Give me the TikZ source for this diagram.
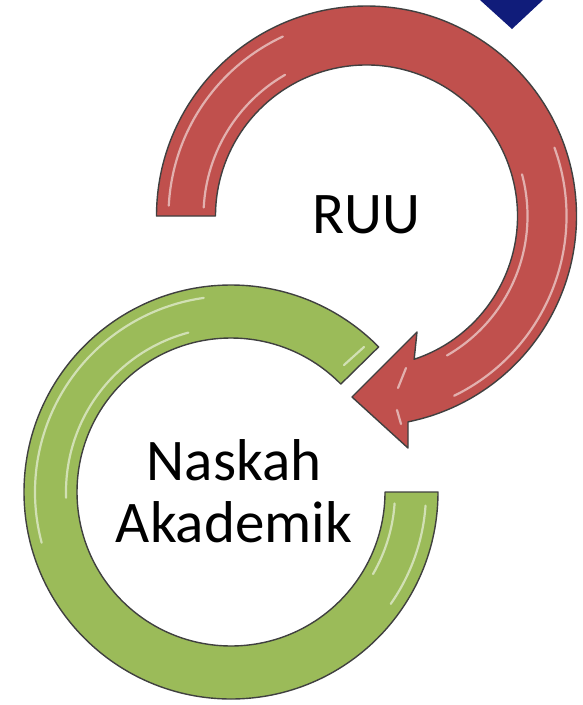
\documentclass[tikz,border=0pt]{standalone}
\usepackage{fontspec}
\setmainfont{Carlito}
\usetikzlibrary{calc}
\definecolor{ringred}{HTML}{C0504D}
\definecolor{ringgreen}{HTML}{9BBB59}
\definecolor{navyblue}{RGB}{16,28,122}
\definecolor{edgegray}{RGB}{64,64,64}
\begin{document}
\begin{tikzpicture}[x=1pt,y=-1pt,
  ringedge/.style={draw=edgegray, line width=1.4pt, line join=round},
  redshape/.style={ringedge, fill=ringred},
  greenshape/.style={ringedge, fill=ringgreen},
  gloss/.style={draw=white, opacity=0.55, line width=2.2pt, line cap=round},
  lbl/.style={font=\fontsize{59}{62}\selectfont, inner sep=0pt, text=black}]
\useasboundingbox (0,0) rectangle (583,705);
\begin{scope}
\clip (0,0) rectangle (583,705);
\fill[navyblue] (480,0) -- (512,29) -- (543,0) -- (512,-29) -- cycle;
\end{scope}
% centres
\coordinate (rc) at (366.5,216);
\coordinate (gc) at (231,492);
% green ring
\path[greenshape] ($(gc)+(0:207)$)
  arc[start angle=0, end angle=315.5, radius=207]
  -- ($(gc)+(315.5:154)$)
  arc[start angle=315.5, end angle=0, radius=154] -- cycle;
\draw[gloss] ($(gc)+(165:196)$) arc[start angle=165, end angle=262, radius=196];
\draw[gloss] ($(gc)+(178:165)$) arc[start angle=178, end angle=255, radius=165];
\draw[gloss] ($(gc)+(4:195)$) arc[start angle=4, end angle=35, radius=195];
\draw[gloss] ($(gc)+(4:164)$) arc[start angle=4, end angle=30, radius=164];
\draw[gloss] (344,365) -- (364,347);
% red arrow
\path[redshape] ($(rc)+(180:210)$)
  arc[start angle=180, end angle=438.6, radius=210]
  -- (408,448) -- (352,397) -- (417,332)
  -- ($(rc)+(431.6:151)$)
  arc[start angle=431.6, end angle=180, radius=151] -- cycle;
\draw[gloss] ($(rc)+(183:198)$) arc[start angle=183, end angle=245, radius=198];
\draw[gloss] ($(rc)+(183:163)$) arc[start angle=183, end angle=240, radius=163];
\draw[gloss] ($(rc)+(340:200)$) arc[start angle=340, end angle=424, radius=200];
\draw[gloss] ($(rc)+(345:161)$) arc[start angle=345, end angle=420, radius=161];
\draw[gloss] (398,388) -- (406,368);
\draw[gloss] (397,410) -- (401,424);
% labels
\node[lbl, anchor=base] (ruu) at (366.5,233) {RUU};
\node[lbl, align=center, anchor=center] (naskah) at (234,491) {Naskah\\Akademik};
\end{tikzpicture}
\end{document}
